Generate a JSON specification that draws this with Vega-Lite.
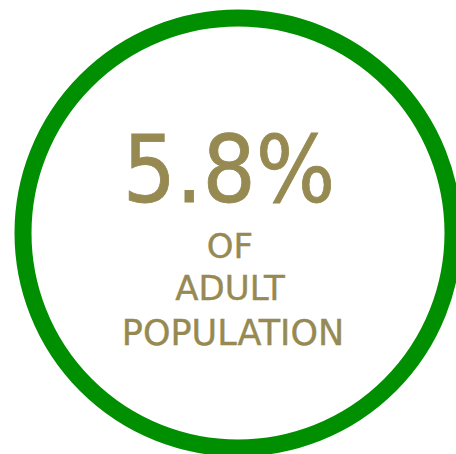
{
  "$schema": "https://vega.github.io/schema/vega-lite/v6.json",
  "width": 456,
  "height": 454,
  "autosize": "none",
  "padding": {"left": 10, "top": 6, "right": 0, "bottom": 0},
  "background": "white",
  "config": {"view": {"stroke": null}},
  "layer": [
    {
      "data": {"values": [{"item": "ring"}]},
      "mark": {"type": "point", "shape": "circle", "filled": false, "size": 184900, "stroke": "#008f00", "strokeWidth": 17, "opacity": 1},
      "encoding": {}
    },
    {
      "data": {"values": [{"label": "5.8%"}]},
      "mark": {"type": "text", "font": "DejaVu Sans Condensed", "fontSize": 93, "color": "#968a52", "stroke": "#968a52", "strokeWidth": 0.8, "baseline": "alphabetic", "align": "center", "dx": -9, "dy": -31},
      "encoding": {"text": {"field": "label"}}
    },
    {
      "data": {"values": [{"label": "OF"}]},
      "mark": {"type": "text", "font": "DejaVu Sans", "fontSize": 34, "color": "#968a52", "stroke": "#968a52", "strokeWidth": 0.4, "baseline": "alphabetic", "align": "center", "dx": -8, "dy": 25},
      "encoding": {"text": {"field": "label"}}
    },
    {
      "data": {"values": [{"label": "ADULT"}]},
      "mark": {"type": "text", "font": "DejaVu Sans", "fontSize": 34, "color": "#968a52", "stroke": "#968a52", "strokeWidth": 0.4, "baseline": "alphabetic", "align": "center", "dx": -8, "dy": 67},
      "encoding": {"text": {"field": "label"}}
    },
    {
      "data": {"values": [{"label": "POPULATION"}]},
      "mark": {"type": "text", "font": "DejaVu Sans", "fontSize": 35, "color": "#968a52", "stroke": "#968a52", "strokeWidth": 0.4, "baseline": "alphabetic", "align": "center", "dx": -5, "dy": 112},
      "encoding": {"text": {"field": "label"}}
    }
  ]
}
